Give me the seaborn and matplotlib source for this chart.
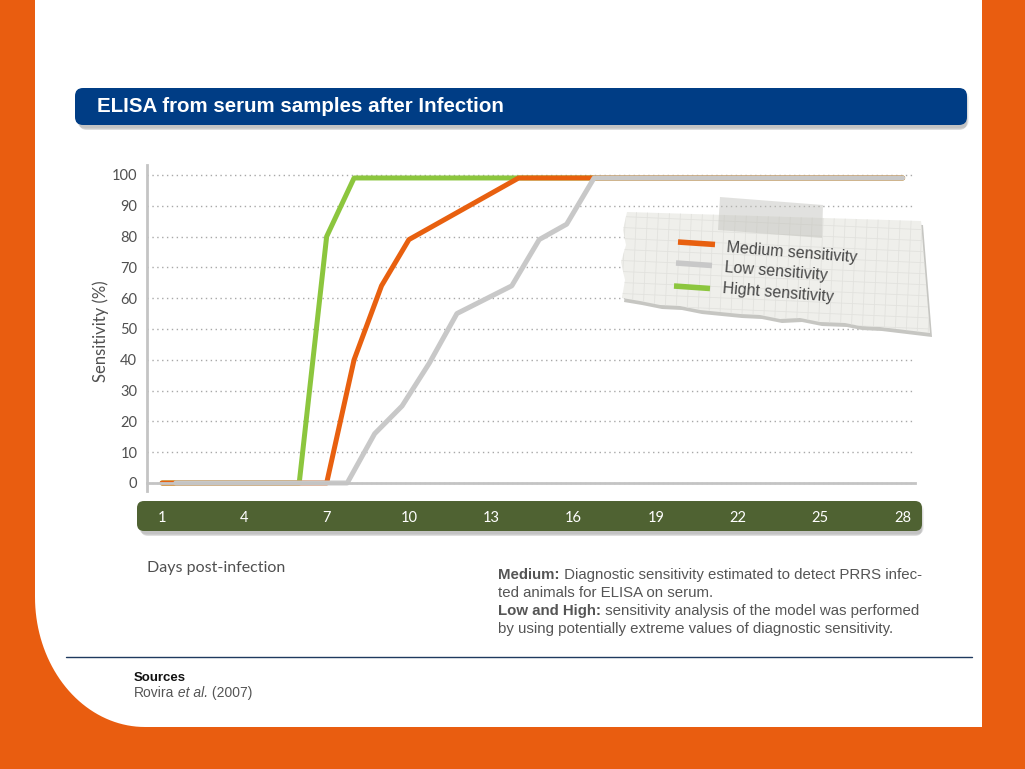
import numpy as np
import pandas as pd
import matplotlib
matplotlib.use("Agg")
import matplotlib.pyplot as plt
import seaborn as sns
from matplotlib.patches import FancyBboxPatch, Polygon
from matplotlib.lines import Line2D

W, H = 1025, 769

# values
high_days = [1, 6, 7, 8, 28]
high_vals = [0, 0, 80, 99, 99]
medium_days = [1, 7, 8, 9, 10, 14, 28]
medium_vals = [0, 0, 40, 64, 79, 99, 99]
low_days = [1.5, 7.75, 8.75, 9.75, 10.75, 11.75, 13.75, 14.75, 15.75, 16.75, 28]
low_vals = [0, 0, 16, 25, 39, 55, 64, 79, 84, 99, 99]

levels = ["High", "Medium", "Low"]
legend_levels = ["Medium", "Low", "High"]
legend_labels = ["Medium sensitivity", "Low sensitivity", "Hight sensitivity"]
colors = {"High": "#8CC63E", "Medium": "#E8600F", "Low": "#C8C8C8"}

x_ticks = [1, 4, 7, 10, 13, 16, 19, 22, 25, 28]
y_ticks = list(range(0, 101, 10))

df = pd.concat([
    pd.DataFrame({"day": high_days, "sens": high_vals, "level": "High"}),
    pd.DataFrame({"day": medium_days, "sens": medium_vals, "level": "Medium"}),
    pd.DataFrame({"day": low_days, "sens": low_vals, "level": "Low"}),
], ignore_index=True)

sns.set_theme(style="white")
plt.rcParams["font.family"] = ["Lato", "DejaVu Sans"]
NARROW = ["Liberation Sans Narrow", "Liberation Sans", "DejaVu Sans"]
SANS = ["Liberation Sans", "DejaVu Sans"]


def inch(x, y):
    # pixel position (from top-left) to inches for fig.dpi_scale_trans
    return (x / 100, (H - y) / 100)


fig = plt.figure(figsize=(W / 100, H / 100), dpi=100)
fig.patch.set_facecolor("#E95D10")
T = fig.dpi_scale_trans

# white page with the rounded bottom-left corner
t = np.linspace(0, np.pi / 2, 40)
arc = [inch(145 - 110 * np.sin(a), 597 + 130 * np.cos(a)) for a in t]
page = [inch(35, 0), inch(982, 0), inch(982, 727)] + arc
fig.add_artist(Polygon(page, closed=True, transform=T, fc="white", ec="none", zorder=-3))

# title bar
for k, al in enumerate([0.12, 0.18, 0.25]):
    fig.add_artist(FancyBboxPatch(inch(75 + 2 + k, 125 + 3 + k), 8.92 - 0.02 * k, 0.37,
                                  boxstyle="round,pad=0,rounding_size=0.08", transform=T,
                                  fc="#808080", ec="none", alpha=al, zorder=-2))
fig.add_artist(FancyBboxPatch(inch(75, 125), 8.92, 0.37, boxstyle="round,pad=0,rounding_size=0.08",
                              transform=T, fc="#003D85", ec="none", zorder=-1))
fig.text(97 / W, 1 - 106 / H, "ELISA from serum samples after Infection", color="white",
         fontsize=14.8, fontweight="bold", family=NARROW, va="center", ha="left")

# green bar holding the day labels
for k, al in enumerate([0.12, 0.18, 0.25]):
    fig.add_artist(FancyBboxPatch(inch(137 + 2 + k, 531 + 3 + k), 7.85 - 0.02 * k, 0.30,
                                  boxstyle="round,pad=0,rounding_size=0.07", transform=T,
                                  fc="#808080", ec="none", alpha=al, zorder=-2))
fig.add_artist(FancyBboxPatch(inch(137, 531), 7.85, 0.30, boxstyle="round,pad=0,rounding_size=0.07",
                              transform=T, fc="#4F6232", ec="none", zorder=-1))

# main axes
ax = fig.add_axes([0.1434, 0.3619, 0.7493, 0.4235])
ax.patch.set_alpha(0)
sns.lineplot(data=df, x="day", y="sens", hue="level", hue_order=levels, palette=colors,
             linewidth=3.6, estimator=None, legend=False, ax=ax)

ax.set_xlim(0.45, 28.45)
ax.set_ylim(-2.5, 103.2)
ax.set_xticks(x_ticks)
ax.set_xticklabels([str(d) for d in x_ticks])
ax.set_xticks(range(1, 29), minor=True)
ax.set_yticks(y_ticks)
ax.set_yticklabels([str(v) for v in y_ticks])
ax.set_xlabel("")
ax.set_ylabel("Sensitivity (%)", fontsize=12, color="#505050")
ax.yaxis.set_label_coords(-0.05, 0.49)

ax.yaxis.grid(True, linestyle=(0, (1, 2.5)), color="#A8A8A8", linewidth=1)
ax.xaxis.grid(False)
for s in ["top", "right"]:
    ax.spines[s].set_visible(False)
ax.spines["left"].set_color("#C4C4C4")
ax.spines["left"].set_linewidth(2)
ax.spines["bottom"].set_position(("data", 0))
ax.spines["bottom"].set_color("#C4C4C4")
ax.spines["bottom"].set_linewidth(2)
ax.set_axisbelow(True)

ax.tick_params(axis="y", length=0, pad=7, labelsize=10.5, labelcolor="#505050")
ax.tick_params(axis="x", which="major", direction="inout", length=10, width=1.3,
               color="#9A9A9A", labelcolor="white", labelsize=10.5, pad=15)
ax.tick_params(axis="x", which="minor", direction="inout", length=5, width=0.8, color="#D4D4D4")

# paper note legend
paper = [(627, 212), (921, 221), (930, 333), (905, 330), (880, 327), (860, 326), (845, 323),
         (820, 322), (800, 318), (780, 319), (760, 315), (740, 314), (720, 312), (700, 310),
         (680, 306), (660, 305), (640, 301), (622, 298), (625, 280), (621, 262), (626, 245),
         (623, 230)]
fig.add_artist(Polygon([inch(x + 2, y + 4) for x, y in paper], closed=True, transform=T,
                       fc="#C6C6C2", ec="none", zorder=5))
note = Polygon([inch(x, y) for x, y in paper], closed=True, transform=T,
               fc="#EFEFEB", ec="none", zorder=6)
fig.add_artist(note)
slope = np.tan(np.radians(2.5))
for k in range(14):
    y0 = 205 + 11 * k
    ln = Line2D([6.1, 9.4], [(H - y0) / 100, (H - y0 - 330 * slope) / 100], transform=T,
                color="#E2E2DE", lw=0.6, zorder=7)
    fig.add_artist(ln)
    ln.set_clip_path(note)
for k in range(32):
    x0 = 615 + 11 * k
    ln = Line2D([x0 / 100, (x0 - 140 * slope) / 100], [(H - 200) / 100, (H - 340) / 100],
                transform=T, color="#E2E2DE", lw=0.6, zorder=7)
    fig.add_artist(ln)
    ln.set_clip_path(note)
tape = [(720, 197), (823, 205), (822, 238), (718, 230)]
fig.add_artist(Polygon([inch(x, y) for x, y in tape], closed=True, transform=T,
                       fc="#BEBEB8", ec="none", alpha=0.45, zorder=9))

line_pos = [((678, 242), (715, 244.5)), ((676, 263), (712, 265.5)), ((674, 286), (710, 288.5))]
text_pos = [(727, 248), (725, 268), (723, 289)]
for lev, lab, (p0, p1), (tx, ty) in zip(legend_levels, legend_labels, line_pos, text_pos):
    fig.add_artist(Line2D([p0[0] / 100, p1[0] / 100], [(H - p0[1]) / 100, (H - p1[1]) / 100],
                          transform=T, color=colors[lev], lw=4, solid_capstyle="butt", zorder=10))
    fig.text(tx / W, 1 - ty / H, lab, fontsize=11.5, color="#474747", family=SANS,
             rotation=-4.5, rotation_mode="anchor", ha="left", va="center", zorder=10)

# texts below the chart
fig.text(147 / W, 1 - 568 / H, "Days post-infection", fontsize=11.5, color="#505050",
         ha="left", va="center")


def rich_line(x, y, parts, size, color, family):
    prev = None
    for txt, weight, style in parts:
        kw = dict(fontsize=size, color=color, fontweight=weight, fontstyle=style, family=family)
        if prev is None:
            prev = fig.text(x / W, 1 - y / H, txt, ha="left", va="center", **kw)
        else:
            prev = ax.annotate(txt, xy=(1, 0), xycoords=prev, ha="left", va="bottom",
                               annotation_clip=False, **kw)


note_lines = [
    [("Medium:", "bold", "normal"), (" Diagnostic sensitivity estimated to detect PRRS infec-", "normal", "normal")],
    [("ted animals for ELISA on serum.", "normal", "normal")],
    [("Low and High:", "bold", "normal"), (" sensitivity analysis of the model was performed", "normal", "normal")],
    [("by using potentially extreme values of diagnostic sensitivity.", "normal", "normal")],
]
for i, parts in enumerate(note_lines):
    rich_line(498, 575 + 18 * i, parts, 10.8, "#555555", SANS)

fig.add_artist(Line2D([0.66, 9.72], [(H - 657) / 100] * 2, transform=T, color="#1F3A5F", lw=1))
rich_line(134, 678, [("Sources", "bold", "normal")], 9.5, "#111111", NARROW)
rich_line(134, 693, [("Rovira", "normal", "normal"), (" et al.", "normal", "italic"),
                     (" (2007)", "normal", "normal")], 10, "#555555", NARROW)

fig.savefig("out.png", dpi=100, facecolor=fig.get_facecolor())
